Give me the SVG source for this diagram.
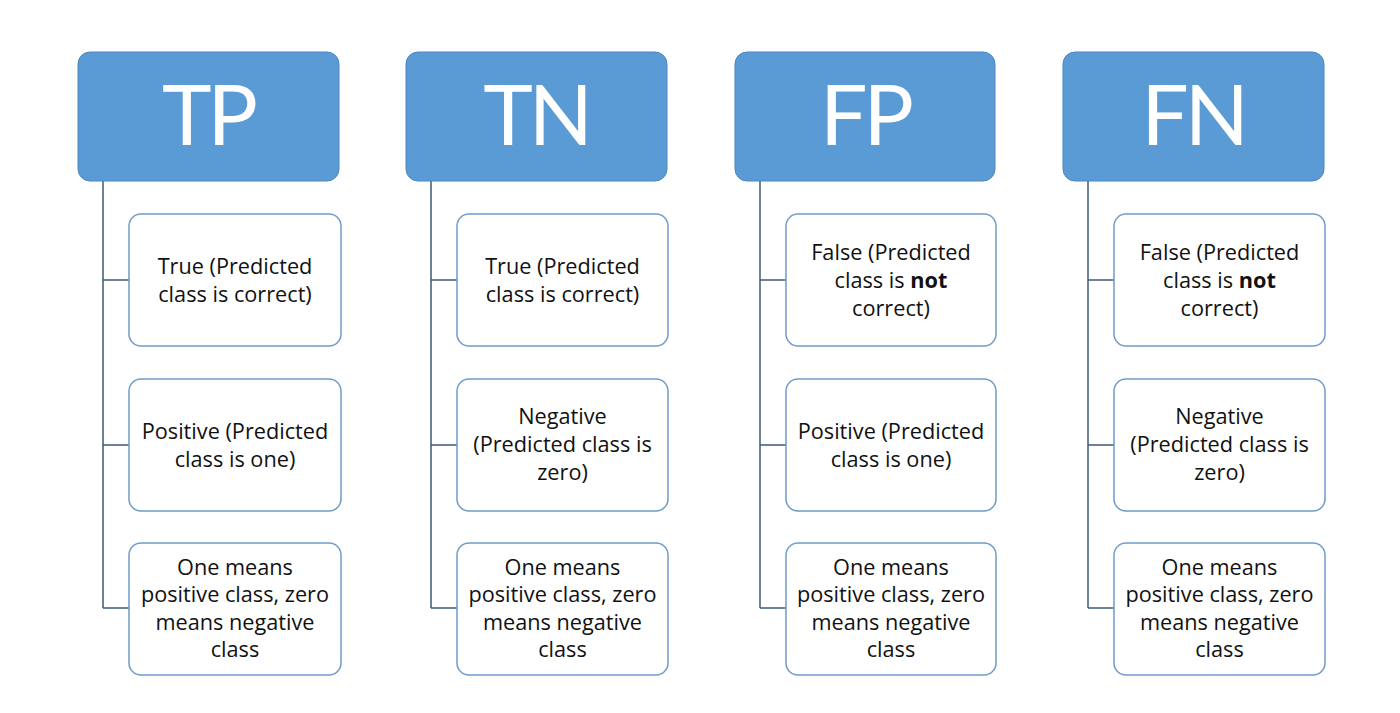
<svg xmlns="http://www.w3.org/2000/svg" width="1400" height="713" viewBox="0 0 1400 713">
<style>
.hdr{fill:#5B9BD5;stroke:#4A86BF;stroke-width:1}
.ht{font-family:Lato,"Noto Sans",sans-serif;font-size:84px;fill:#fff;text-anchor:middle;letter-spacing:-4px}
.box{fill:#fff;stroke:#6F9CC9;stroke-width:1.5}
.bt{font-family:"Open Sans","Noto Sans",sans-serif;font-size:21.7px;fill:#111;text-anchor:middle}
.conn{fill:none;stroke:#3E5A78;stroke-width:1.5}
</style>
<rect width="1400" height="713" fill="#fff"/>
<g id="connectors">
<path class="conn" d="M103 181V608M103 280H129M103 445H129M103 608H129"/>
<path class="conn" d="M431 181V608M431 280H457M431 445H457M431 608H457"/>
<path class="conn" d="M760 181V608M760 280H786M760 445H786M760 608H786"/>
<path class="conn" d="M1088 181V608M1088 280H1114M1088 445H1114M1088 608H1114"/>
</g>
<g id="tp">
<rect class="hdr" x="78" y="52" width="261" height="129" rx="12"/>
<text class="ht" x="208" y="145">TP</text>
</g>
<g id="tn">
<rect class="hdr" x="406" y="52" width="261" height="129" rx="12"/>
<text class="ht" x="536" y="145">TN</text>
</g>
<g id="fp">
<rect class="hdr" x="735" y="52" width="260" height="129" rx="12"/>
<text class="ht" x="865" y="145">FP</text>
</g>
<g id="fn">
<rect class="hdr" x="1063" y="52" width="261" height="129" rx="12"/>
<text class="ht" x="1193" y="145">FN</text>
</g>
<g id="tp1"><rect class="box" x="129" y="214" width="212" height="132" rx="12"/>
<text class="bt" x="235" y="274">True (Predicted</text><text class="bt" x="235" y="302">class is correct)</text></g>
<g id="tp2"><rect class="box" x="129" y="379" width="212" height="132" rx="12"/>
<text class="bt" x="235" y="439">Positive (Predicted</text><text class="bt" x="235" y="467">class is one)</text></g>
<g id="tp3"><rect class="box" x="129" y="543" width="212" height="132" rx="12"/>
<text class="bt" x="235" y="575">One means</text><text class="bt" x="235" y="602">positive class, zero</text><text class="bt" x="235" y="630">means negative</text><text class="bt" x="235" y="657">class</text></g>
<g id="tn1"><rect class="box" x="457" y="214" width="211" height="132" rx="12"/>
<text class="bt" x="562.5" y="274">True (Predicted</text><text class="bt" x="562.5" y="302">class is correct)</text></g>
<g id="tn2"><rect class="box" x="457" y="379" width="211" height="132" rx="12"/>
<text class="bt" x="562.5" y="424">Negative</text><text class="bt" x="562.5" y="452">(Predicted class is</text><text class="bt" x="562.5" y="480">zero)</text></g>
<g id="tn3"><rect class="box" x="457" y="543" width="211" height="132" rx="12"/>
<text class="bt" x="562.5" y="575">One means</text><text class="bt" x="562.5" y="602">positive class, zero</text><text class="bt" x="562.5" y="630">means negative</text><text class="bt" x="562.5" y="657">class</text></g>
<g id="fp1"><rect class="box" x="786" y="214" width="210" height="132" rx="12"/>
<text class="bt" x="891" y="260">False (Predicted</text><text class="bt" x="891" y="288">class is <tspan font-weight="bold">not</tspan></text><text class="bt" x="891" y="316">correct)</text></g>
<g id="fp2"><rect class="box" x="786" y="379" width="210" height="132" rx="12"/>
<text class="bt" x="891" y="439">Positive (Predicted</text><text class="bt" x="891" y="467">class is one)</text></g>
<g id="fp3"><rect class="box" x="786" y="543" width="210" height="132" rx="12"/>
<text class="bt" x="891" y="575">One means</text><text class="bt" x="891" y="602">positive class, zero</text><text class="bt" x="891" y="630">means negative</text><text class="bt" x="891" y="657">class</text></g>
<g id="fn1"><rect class="box" x="1114" y="214" width="211" height="132" rx="12"/>
<text class="bt" x="1219.5" y="260">False (Predicted</text><text class="bt" x="1219.5" y="288">class is <tspan font-weight="bold">not</tspan></text><text class="bt" x="1219.5" y="316">correct)</text></g>
<g id="fn2"><rect class="box" x="1114" y="379" width="211" height="132" rx="12"/>
<text class="bt" x="1219.5" y="424">Negative</text><text class="bt" x="1219.5" y="452">(Predicted class is</text><text class="bt" x="1219.5" y="480">zero)</text></g>
<g id="fn3"><rect class="box" x="1114" y="543" width="211" height="132" rx="12"/>
<text class="bt" x="1219.5" y="575">One means</text><text class="bt" x="1219.5" y="602">positive class, zero</text><text class="bt" x="1219.5" y="630">means negative</text><text class="bt" x="1219.5" y="657">class</text></g>
</svg>
